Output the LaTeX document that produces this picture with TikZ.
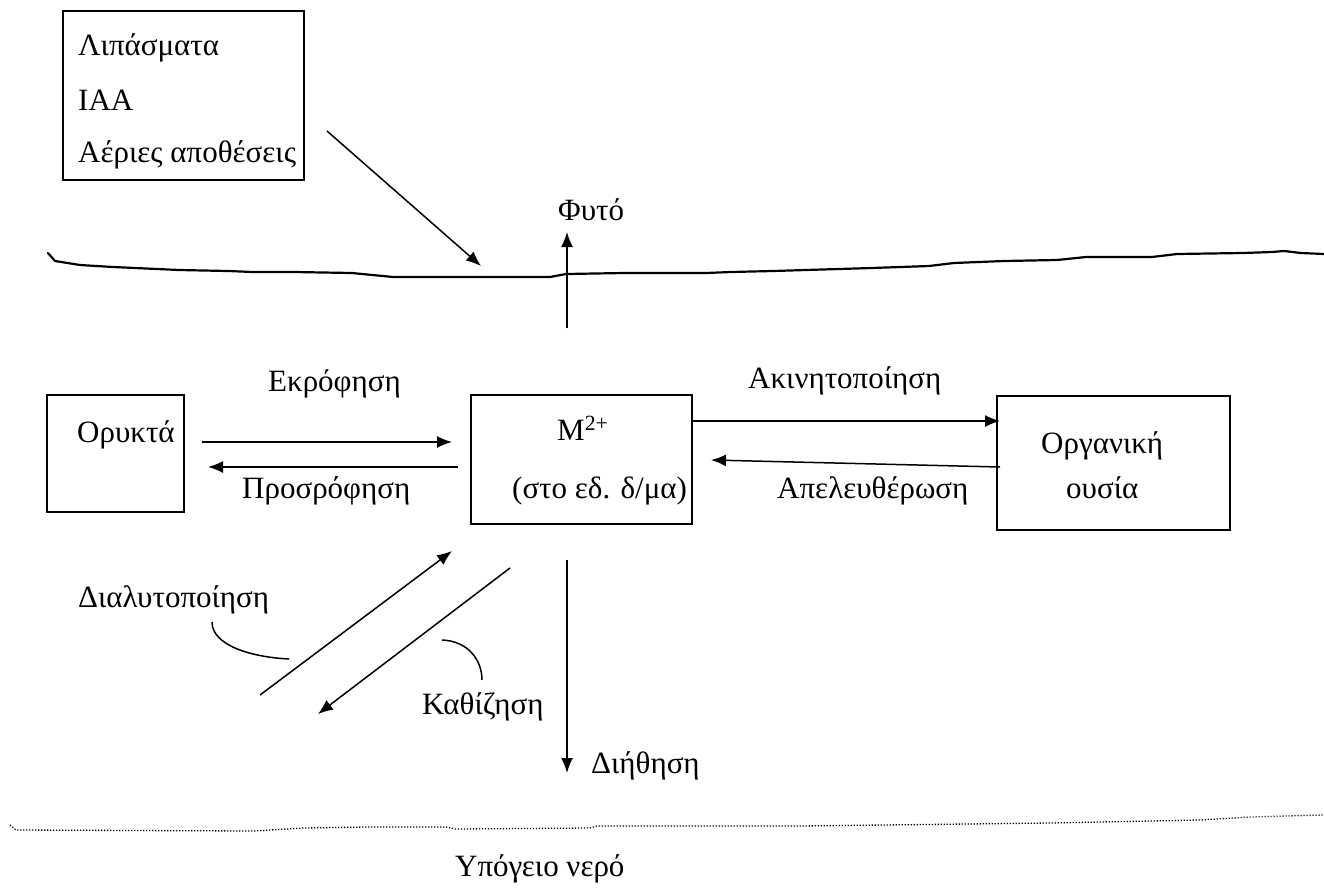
\documentclass[tikz,border=0pt]{standalone}
\usepackage{fontspec}
\setmainfont{Liberation Serif}
\usetikzlibrary{arrows.meta}
\begin{document}
\begin{tikzpicture}[x=1pt,y=-1pt]
\tikzset{
 box/.style={draw, line width=1.5pt, inner sep=0pt},
 lbl/.style={inner sep=0pt, anchor=base west, font=\fontsize{31}{36}\selectfont},
 flow/.style={line width=1.5pt, -{Latex[length=15pt,width=12pt]}},
 leader/.style={line width=1.5pt},
 surface/.style={line width=2.2pt, line join=round, line cap=round},
 water/.style={line width=1.3pt, dash pattern=on 1.2pt off 1.8pt},
}
\useasboundingbox (0,0) rectangle (1324,889);

% boxes
\node[box, minimum width=241pt, minimum height=169pt] (inputs) at (183.5,95.5) {};
\node[box, minimum width=137pt, minimum height=117pt] (oryk) at (115.5,453.5) {};
\node[box, minimum width=221pt, minimum height=129pt] (metal) at (581.5,459.5) {};
\node[box, minimum width=233pt, minimum height=134pt] (organ) at (1113.5,463) {};

% texts
\node[lbl] (t1) at (78,55) {Λιπάσματα};
\node[lbl] (t2) at (78,110) {ΙΑΑ};
\node[lbl] (t3) at (78,162) {Αέριες αποθέσεις};
\node[lbl] (plant) at (558,220) {Φυτό};
\node[lbl] (desl) at (268,391) {Εκρόφηση};
\node[lbl] (imml) at (748,388) {Ακινητοποίηση};
\node[lbl] (orykl) at (77,442) {Ορυκτά};
\node[lbl] (metl) at (557,440) {M\textsuperscript{2+}};
\node[lbl] (metl2) at (512,498) {(στο εδ. δ/μα)};
\node[lbl] (orgl) at (1041,453) {Οργανική};
\node[lbl] (orgl2) at (1066,498) {ουσία};
\node[lbl] (sorl) at (242,498) {Προσρόφηση};
\node[lbl] (rell) at (777,498) {Απελευθέρωση};
\node[lbl] (disl) at (78,607) {Διαλυτοποίηση};
\node[lbl] (prel) at (422,714) {Καθίζηση};
\node[lbl] (leal) at (591,773) {Διήθηση};
\node[lbl] (gwl) at (455,876) {Υπόγειο νερό};

% arrow end points
\coordinate (depA) at (327,131);
\coordinate (depB) at (481,266);
\coordinate (plA) at (567,328);
\coordinate (plB) at (567,232);
\coordinate (deA) at (202,442);
\coordinate (deB) at (452,442);
\coordinate (soA) at (458,467);
\coordinate (soB) at (208,467);
\coordinate (imA) at (692,421);
\coordinate (imB) at (1000,421);
\coordinate (reA) at (1000,467);
\coordinate (reB) at (711,460);
\coordinate (diA) at (260,695);
\coordinate (diB) at (452,551);
\coordinate (prA) at (510,568);
\coordinate (prB) at (318,714);
\coordinate (leA) at (567,560);
\coordinate (leB) at (567,773);

\draw[flow] (depA) -- (depB);
\draw[flow] (plA) -- (plB);
\draw[flow] (deA) -- (deB);
\draw[flow] (soA) -- (soB);
\draw[flow] (imA) -- (imB);
\draw[flow] (reA) -- (reB);
\draw[flow] (diA) -- (diB);
\draw[flow] (prA) -- (prB);
\draw[flow] (leA) -- (leB);

% leaders
\coordinate (ldA) at (212,622);
\coordinate (ldB) at (289,659);
\coordinate (lkA) at (442,640);
\coordinate (lkB) at (482,680);
\draw[leader] (ldA) .. controls (212,645) and (250,657) .. (ldB);
\draw[leader] (lkA) .. controls (468,641) and (482,660) .. (lkB);

% soil surface
\draw[surface] (48,253) -- (55,261) -- (80,265) -- (113,267) -- (179,270) -- (228,271)
 -- (253,272) -- (294,272) -- (352,273) -- (393,277) -- (550,277) -- (566,274)
 -- (624,273) -- (706,273) -- (731,272) -- (773,271) -- (872,268) -- (929,266)
 -- (954,263) -- (1004,261) -- (1057,260) -- (1086,257) -- (1152,257) -- (1177,254)
 -- (1243,253) -- (1272,252) -- (1284,251) -- (1301,253) -- (1324,254);

% groundwater
\draw[water] (10,825) -- (16,830) -- (254,831) -- (303,828) -- (366,827) -- (446,827)
 -- (455,829) -- (589,828) -- (598,826) -- (800,826) -- (1050,823) -- (1200,820)
 -- (1250,817) -- (1324,815);
\end{tikzpicture}
\end{document}
